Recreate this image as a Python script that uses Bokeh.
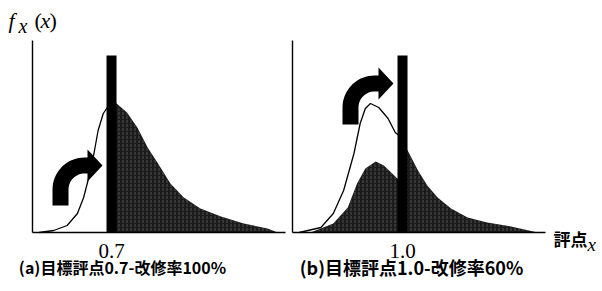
import numpy as np
from bokeh.plotting import figure
from bokeh.models import FixedTicker, Label, PrintfTickFormatter, LinearAxis, Range1d
from bokeh.embed import file_html
from bokeh.resources import INLINE

# ---------------- data ----------------
target_a = 0.7          # panel (a) target score
target_b = 1.0          # panel (b) target score
spike_a = 1.77          # repaired mass piled at the target (drawn as a bar)
spike_b = 1.77

# panel (a): original distribution left of the target (thin line)
a_orig_x = [0.00, 0.14, 0.27, 0.37, 0.43, 0.48, 0.53, 0.57, 0.62, 0.66, 0.70]
a_orig_y = [0.00, 0.02, 0.07, 0.19, 0.35, 0.55, 0.79, 1.02, 1.19, 1.25, 1.29]
# panel (a): distribution after repair (shaded)
a_post_x = [0.70, 0.75, 0.85, 0.95, 1.05, 1.15, 1.27, 1.40, 1.56, 1.76, 1.98, 2.21, 2.31]
a_post_y = [1.30, 1.29, 1.20, 1.05, 0.85, 0.69, 0.49, 0.35, 0.24, 0.16, 0.09, 0.04, 0.00]

# panel (b): original distribution (thin line)
b_orig_x = [0.00, 0.21, 0.33, 0.43, 0.53, 0.59, 0.64, 0.69, 0.77, 0.86, 0.93, 1.00]
b_orig_y = [0.00, 0.05, 0.19, 0.42, 0.79, 1.09, 1.24, 1.29, 1.25, 1.14, 1.00, 0.94]
# panel (b): distribution after repair (shaded)
b_post_x = [0.11, 0.33, 0.47, 0.56, 0.64, 0.74, 0.82, 0.90, 0.95, 1.00,
            1.00, 1.05, 1.15, 1.24, 1.34, 1.47, 1.63, 1.82, 2.05, 2.31]
b_post_y = [0.00, 0.09, 0.25, 0.49, 0.64, 0.71, 0.67, 0.59, 0.54, 0.52,
            0.85, 0.82, 0.62, 0.47, 0.35, 0.24, 0.15, 0.10, 0.06, 0.00]

tick_a = [0.7]
tick_b = [1.0]
caption_a = "(a)目標評点0.7-改修率100%"
caption_b = "(b)目標評点1.0-改修率60%"
x_name = "評点"

# ---------------- layout / style ----------------
W, H = 602, 291
PXU = 103.3      # pixels per score unit
PYU = 100.0      # pixels per density unit
AXIS_W = 253     # length of each panel's baseline (px)
AXIS_H = 192     # height of each panel's left axis (px)
BASE_Y = 232     # page y of the baselines
LEFT_A, LEFT_B = 32, 292   # page x of the two left axes
X0 = -0.065      # score at each left axis
SERIF = "Liberation Serif"
CJK = "Noto Sans CJK JP"
FILL = "#1b1b1b"

xa_start = X0 - LEFT_A / PXU
xb_start = X0 - LEFT_B / PXU
p = figure(width=W, height=H,
           x_range=Range1d(xa_start, xa_start + W / PXU),
           y_range=Range1d((BASE_Y - H) / PYU, BASE_Y / PYU),
           x_axis_location=None, y_axis_location=None,
           output_backend="svg", toolbar_location=None,
           min_border=0)
p.extra_x_ranges = {"b": Range1d(xb_start, xb_start + W / PXU)}
p.outline_line_color = None
p.xgrid.visible = False
p.ygrid.visible = False
p.background_fill_color = "white"
p.border_fill_color = "white"


def style_axis(ax):
    ax.axis_line_color = "black"
    ax.axis_line_width = 1.4
    ax.major_tick_line_color = None
    ax.minor_tick_line_color = None
    ax.major_tick_out = 0
    ax.minor_tick_out = 0
    ax.major_tick_in = 0
    ax.minor_tick_in = 0


for name, ticks in ((None, tick_a), ("b", tick_b)):
    kw = {} if name is None else {"x_range_name": name}
    xax = LinearAxis(ticker=FixedTicker(ticks=ticks), fixed_location=0,
                     bounds=(X0, X0 + AXIS_W / PXU),
                     formatter=PrintfTickFormatter(format="%.1f"), **kw)
    style_axis(xax)
    xax.major_label_text_font = SERIF
    xax.major_label_text_font_size = "21px"
    xax.major_label_text_color = "black"
    xax.major_label_standoff = 11
    p.add_layout(xax, "below")
    yax = LinearAxis(ticker=FixedTicker(ticks=[]), fixed_location=X0,
                     bounds=(0, AXIS_H / PYU), **kw)
    style_axis(yax)
    p.add_layout(yax, "left")


def bent_arrow(bx, by, w=16, L=16, R=24, S=3, T=15, Hh=16, n=18):
    """Thick arrow going up then bending right (pixel offsets -> data)."""
    pts = [(-w / 2, 0), (-w / 2, L)]
    Ro, Ri = R + w / 2, R - w / 2
    for t in np.linspace(np.pi, np.pi / 2, n):
        pts.append((R + Ro * np.cos(t), L + Ro * np.sin(t)))
    hx = R + S
    pts += [(hx, L + Ro), (hx, L + R + Hh), (hx + T, L + R), (hx, L + R - Hh), (hx, L + Ri)]
    for t in np.linspace(np.pi / 2, np.pi, n):
        pts.append((R + Ri * np.cos(t), L + Ri * np.sin(t)))
    pts.append((w / 2, 0))
    xs = [bx + u / PXU for u, v in pts]
    ys = [by + v / PYU for u, v in pts]
    return xs, ys


def sx(page_x, left):
    return X0 + (page_x - left) / PXU


def sy(page_y):
    return (BASE_Y - page_y) / PYU


def panel(xs_post, ys_post, xs_orig, ys_orig, target, spike, arrow, name):
    kw = {} if name is None else {"x_range_name": name}
    p.varea(x=xs_post, y1=[0] * len(xs_post), y2=ys_post, fill_color=FILL,
            hatch_pattern=":", hatch_color="#7a7a7a", hatch_scale=4,
            hatch_weight=1, hatch_alpha=0.55, **kw)
    p.line(xs_orig, ys_orig, line_color="black", line_width=1.3, **kw)
    p.vbar(x=[target], top=[spike], width=0.097, fill_color="black",
           line_color=None, **kw)
    ax_, ay_ = arrow
    p.patch(ax_, ay_, fill_color="black", line_color=None, **kw)


panel(a_post_x, a_post_y, a_orig_x, a_orig_y, target_a, spike_a,
      bent_arrow(sx(60, LEFT_A), sy(205), L=16, S=3), None)
panel(b_post_x, b_post_y, b_orig_x, b_orig_y, target_b, spike_b,
      bent_arrow(sx(350, LEFT_B), sy(124), L=17, S=4), "b")


def label(px, py, text, font, size, style="normal", baseline="alphabetic",
          align="left"):
    p.add_layout(Label(x=sx(px, LEFT_A), y=sy(py), text=text, text_font=font,
                       text_font_size=size, text_font_style=style,
                       text_baseline=baseline, text_align=align,
                       text_color="black"))


# y-axis name f_x(x)
label(8, 20, "f", SERIF, "22px", "italic")
label(18, 25, "x", SERIF, "20px", "italic")
label(34, 20, "(", SERIF, "22px")
label(40, 20, "x", SERIF, "22px", "italic")
label(49, 20, ")", SERIF, "22px")
# x-axis name 評点x
label(553, 238, x_name, CJK, "17px", "bold", "middle")
label(587, 244, "x", SERIF, "19px", "italic")
# captions
label(122, 266, caption_a, CJK, "16px", "bold", "middle", "center")
label(411, 266, caption_b, CJK, "18px", "bold", "middle", "center")

open("out.html", "w").write(file_html(p, INLINE))
